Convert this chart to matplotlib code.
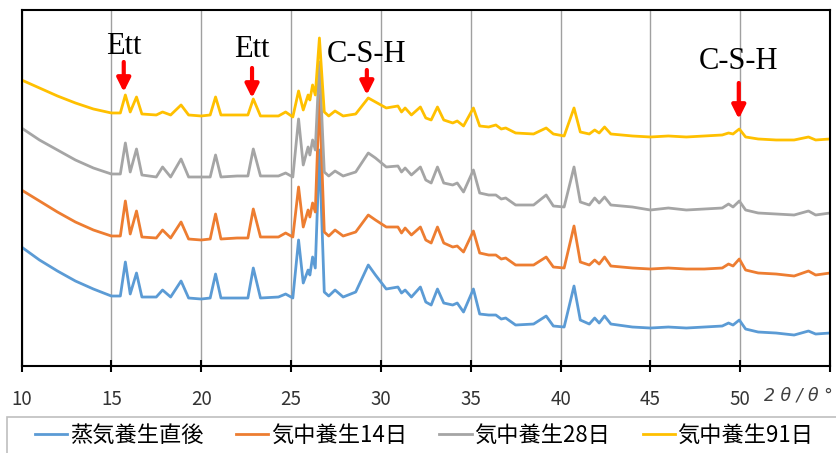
import matplotlib.pyplot as plt
from matplotlib.patches import Rectangle

plt.rcParams['font.family'] = ['Noto Sans CJK JP', 'DejaVu Sans']

two_theta = [10.0, 11.0, 12.0, 13.0, 14.0, 15.0, 15.5, 15.78, 16.05, 16.4,
             16.7, 17.5, 17.85, 18.3, 18.88, 19.3, 20.0, 20.5, 20.8, 21.1,
             22.0, 22.6, 22.9, 23.3, 24.3, 24.7, 25.1, 25.42, 25.68, 25.95,
             26.05, 26.2, 26.35, 26.58, 26.85, 27.1, 27.45, 27.9, 28.6, 29.3,
             29.7, 30.3, 30.95, 31.15, 31.35, 31.7, 32.2, 32.5, 32.8, 33.15,
             33.5, 34.0, 34.25, 34.6, 35.15, 35.5, 36.0, 36.4, 36.7, 36.95,
             37.5, 38.5, 39.2, 39.6, 40.2, 40.75, 41.1, 41.6, 41.9, 42.15,
             42.45, 42.8, 44.0, 45.0, 46.0, 47.0, 48.0, 49.0, 49.35, 49.6,
             49.95, 50.3, 51.0, 52.0, 53.0, 53.8, 54.2, 55.0]

# intensities (arbitrary units, traces already stacked)
steam_end = [119, 106, 95, 85, 77, 70, 70, 104, 72, 93,
             69, 69, 76, 69, 85, 68, 67, 68, 92, 68,
             68, 68, 98, 68, 69, 72, 68, 126, 83, 96,
             91, 109, 98, 216, 74, 70, 76, 69, 74, 101,
             91, 77, 79, 73, 76, 69, 79, 64, 61, 77,
             63, 61, 63, 54, 77, 52, 51, 51, 47, 48,
             41, 42, 50, 40, 39, 80, 46, 42, 48, 43,
             50, 42, 39, 38, 39, 38, 39, 40, 43, 41,
             46, 37, 34, 33, 31, 35, 32, 33]

air_14d = [176, 165, 154, 144, 136, 130, 130, 165, 132, 155,
           129, 128, 136, 128, 144, 127, 126, 127, 152, 127,
           128, 128, 157, 129, 129, 133, 129, 179, 139, 156,
           149, 163, 154, 271, 134, 130, 136, 130, 134, 151,
           146, 139, 139, 133, 138, 131, 139, 126, 123, 139,
           123, 119, 120, 114, 135, 113, 111, 111, 107, 108,
           101, 101, 109, 99, 98, 140, 104, 101, 106, 102,
           109, 100, 98, 97, 98, 97, 97, 98, 102, 100,
           107, 96, 93, 92, 90, 95, 91, 93]

air_28d = [238, 226, 216, 206, 198, 192, 192, 223, 194, 217,
           191, 189, 199, 189, 207, 189, 189, 189, 211, 189,
           190, 190, 217, 190, 190, 193, 189, 247, 201, 219,
           211, 226, 216, 304, 194, 190, 195, 190, 194, 213,
           208, 199, 200, 194, 198, 191, 199, 186, 183, 199,
           183, 181, 183, 174, 196, 173, 171, 171, 167, 168,
           161, 161, 171, 160, 159, 199, 164, 161, 168, 163,
           169, 161, 159, 156, 158, 156, 157, 158, 162, 159,
           165, 156, 153, 152, 151, 155, 151, 153]

air_91d = [286, 278, 270, 263, 257, 253, 253, 271, 254, 269,
           252, 251, 254, 251, 261, 251, 250, 251, 269, 251,
           251, 251, 267, 250, 250, 254, 249, 275, 256, 271,
           266, 281, 271, 328, 254, 250, 255, 250, 252, 268,
           264, 258, 260, 254, 258, 251, 259, 248, 246, 259,
           246, 243, 245, 240, 258, 240, 239, 241, 237, 238,
           233, 232, 238, 232, 230, 258, 234, 232, 236, 233,
           239, 232, 230, 229, 230, 229, 230, 231, 233, 232,
           237, 229, 227, 226, 226, 229, 226, 227]

series = [steam_end, air_14d, air_28d, air_91d]
labels = ['蒸気養生直後', '気中養生14日', '気中養生28日', '気中養生91日']
colors = ['#5B9BD5', '#ED7D31', '#A5A5A5', '#FFC000']

# peak labels: text, 2theta
peak_names = ['Ett', 'Ett', 'C-S-H', 'C-S-H']
peak_pos = [15.69, 22.83, 29.22, 49.92]

fig = plt.figure(figsize=(8.37, 4.53), dpi=100)
ax = fig.add_axes([0.0257, 0.192, 0.966, 0.786])

handles = []
for ys, lab, c in zip(series, labels, colors):
    h, = ax.plot(two_theta, ys, color=c, lw=2.0, label=lab,
                 solid_joinstyle='round')
    handles.append(h)

ax.set_xlim(10, 55)
ax.set_ylim(0, 356)
ax.set_xticks(range(10, 56, 5))
ax.set_xticklabels([str(v) if v < 55 else '' for v in range(10, 56, 5)])
ax.set_yticks([])
ax.grid(axis='x', color='#a0a0a0', lw=1)
ax.set_axisbelow(True)
for s in ax.spines.values():
    s.set_color('black')
    s.set_linewidth(1.5)
ax.tick_params(axis='x', direction='inout', length=9, width=1.5,
               labelsize=13.5, labelcolor='#333333', pad=12)

ax.annotate('2 θ / θ °', xy=(51.3, -0.082), xycoords=('data', 'axes fraction'),
            ha='left', va='center', fontsize=12.5, color='#404040',
            family='DejaVu Sans', style='italic')

# labels and arrows
text_y = [319, 316, 311, 304]
tail_y = [304, 298, 296, 283]
tip_y = [274, 268, 271, 247]
for name, x, ty, ta, tp in zip(peak_names, peak_pos, text_y, tail_y, tip_y):
    ax.text(x, ty, name, ha='center', va='center', fontsize=22,
            family='Liberation Serif', color='black')
    ax.annotate('', xy=(x, tp), xytext=(x, ta),
                arrowprops=dict(arrowstyle='-|>', color='red', lw=3,
                                mutation_scale=20, shrinkA=0, shrinkB=0))

# legend frame
fig.patches.append(Rectangle((7 / 837, -0.1), 1.0, 1 - 416.7 / 453 + 0.1,
                             transform=fig.transFigure, fill=False,
                             edgecolor='#bfbfbf', lw=1.2))
fig.legend(handles, labels, loc='center left', bbox_to_anchor=(35 / 837, 1 - 435 / 453),
           ncol=4, frameon=False, fontsize=16, handlelength=1.45,
           handletextpad=0.13, columnspacing=1.45, borderpad=0, borderaxespad=0)

fig.savefig('out.png', dpi=100)
